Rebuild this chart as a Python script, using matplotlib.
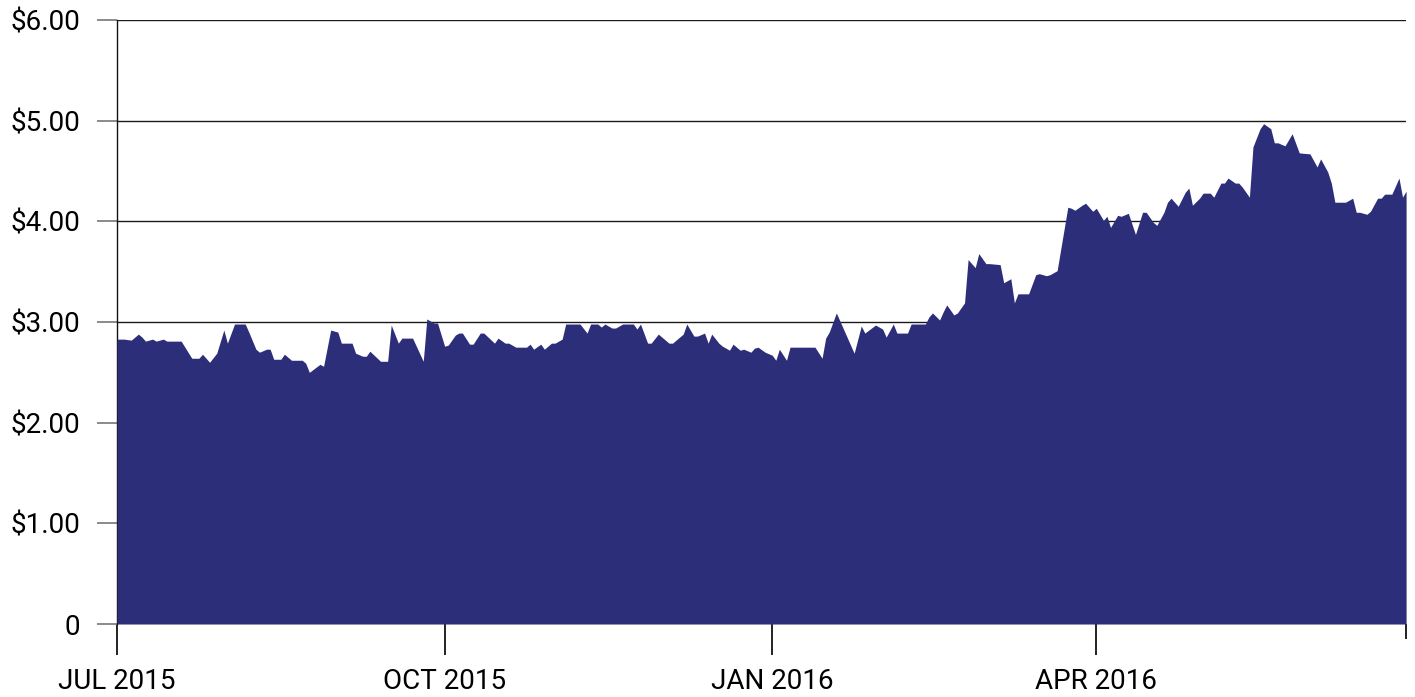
import matplotlib
matplotlib.use("Agg")
import matplotlib.pyplot as plt
import pandas as pd

# days counted from 1 Jul 2015, price in dollars
start_date = "2015-07-01"
day_offsets = [
    0, 2, 4, 6, 7, 8, 10, 11, 13, 14, 18, 21, 23, 24, 26, 28, 30, 31, 33, 36,
    37, 39, 40, 42, 43, 44, 46, 47, 49, 52, 53, 54, 57, 58, 60, 62, 63, 66, 67, 69,
    70, 71, 74, 76, 77, 79, 80, 83, 86, 87, 89, 90, 92, 93, 95, 96, 97, 99, 100, 102,
    103, 106, 107, 109, 110, 112, 115, 116, 117, 119, 120, 122, 123, 125, 126, 130, 132, 133, 135, 136,
    137, 139, 140, 142, 145, 146, 147, 149, 150, 152, 155, 156, 159, 160, 162, 163, 165, 166, 167, 169,
    170, 172, 173, 175, 176, 178, 179, 180, 182, 184, 185, 186, 188, 189, 196, 198, 199, 200, 202, 207,
    209, 210, 213, 215, 216, 218, 219, 222, 223, 227, 228, 229, 231, 232, 233, 235, 236, 238, 239, 241,
    242, 244, 245, 248, 249, 251, 252, 253, 256, 258, 259, 261, 262, 264, 265, 267, 268, 269, 271, 272,
    274, 275, 277, 278, 279, 281, 282, 284, 286, 288, 289, 291, 292, 294, 295, 296, 298, 300, 301, 302,
    304, 305, 307, 308, 310, 311, 312, 314, 315, 316, 318, 319, 321, 322, 324, 325, 326, 328, 330, 332,
    335, 337, 338, 340, 341, 342, 345, 347, 348, 349, 351, 352, 354, 355, 356, 358, 360, 361, 362,
]
prices = [
    2.83, 2.83, 2.82, 2.88, 2.85, 2.81, 2.83, 2.81, 2.83, 2.81, 2.81, 2.64, 2.64, 2.68, 2.60, 2.69, 2.92, 2.79, 2.98, 2.98,
    2.90, 2.73, 2.70, 2.73, 2.73, 2.63, 2.63, 2.68, 2.62, 2.62, 2.59, 2.50, 2.58, 2.56, 2.92, 2.90, 2.79, 2.79, 2.69, 2.66,
    2.66, 2.71, 2.61, 2.61, 2.97, 2.79, 2.84, 2.84, 2.61, 3.03, 2.99, 2.99, 2.76, 2.77, 2.87, 2.89, 2.89, 2.78, 2.78, 2.89,
    2.89, 2.79, 2.84, 2.79, 2.79, 2.75, 2.75, 2.78, 2.73, 2.78, 2.73, 2.79, 2.79, 2.83, 2.98, 2.98, 2.89, 2.98, 2.98, 2.95,
    2.98, 2.94, 2.94, 2.98, 2.98, 2.93, 2.98, 2.79, 2.79, 2.88, 2.79, 2.79, 2.88, 2.98, 2.86, 2.86, 2.89, 2.79, 2.88, 2.79,
    2.76, 2.72, 2.78, 2.72, 2.73, 2.70, 2.74, 2.75, 2.70, 2.67, 2.62, 2.73, 2.62, 2.75, 2.75, 2.64, 2.84, 2.90, 3.09, 2.69,
    2.96, 2.89, 2.97, 2.93, 2.85, 2.98, 2.89, 2.89, 2.98, 2.98, 3.05, 3.09, 3.02, 3.10, 3.17, 3.07, 3.09, 3.19, 3.62, 3.54,
    3.68, 3.58, 3.58, 3.57, 3.39, 3.43, 3.19, 3.28, 3.28, 3.47, 3.48, 3.46, 3.47, 3.51, 3.72, 4.14, 4.13, 4.11, 4.16, 4.18,
    4.10, 4.13, 4.01, 4.05, 3.94, 4.06, 4.05, 4.08, 3.87, 4.09, 4.09, 3.99, 3.96, 4.09, 4.19, 4.23, 4.15, 4.29, 4.33, 4.16,
    4.23, 4.28, 4.28, 4.24, 4.38, 4.38, 4.43, 4.38, 4.38, 4.34, 4.24, 4.74, 4.92, 4.97, 4.92, 4.78, 4.78, 4.75, 4.87, 4.68,
    4.67, 4.54, 4.62, 4.49, 4.38, 4.19, 4.19, 4.23, 4.09, 4.09, 4.07, 4.10, 4.23, 4.23, 4.27, 4.27, 4.43, 4.24, 4.30,
]

tick_dates = ["2015-07-01", "2015-10-01", "2016-01-01", "2016-04-01"]
tick_labels = ["JUL 2015", "OCT 2015", "JAN 2016", "APR 2016"]
y_ticks = [0, 1, 2, 3, 4, 5, 6]
y_labels = ["0", "$1.00", "$2.00", "$3.00", "$4.00", "$5.00", "$6.00"]

plt.rcParams["font.family"] = ["Roboto", "DejaVu Sans"]

dates = pd.Timestamp(start_date) + pd.to_timedelta(day_offsets, unit="D")

fig = plt.figure(figsize=(14.15, 6.97), dpi=100)
ax = fig.add_axes([0.0827, 0.1047, 0.9110, 0.8666])

ax.fill_between(dates, prices, 0, color="#2d2e7a", lw=0, zorder=3)

ax.set_xlim(dates[0], dates[-1])
ax.set_ylim(0, 6)

ax.set_yticks(y_ticks)
ax.set_yticklabels(y_labels, fontsize=20)
ax.yaxis.grid(True, color="#1a1a1a", lw=1)
ax.set_axisbelow(True)
ax.tick_params(axis="y", length=14.5, width=1.2, color="#777777", pad=12)

ax.set_xticks(pd.to_datetime(tick_dates))
ax.set_xticklabels(tick_labels, fontsize=20)
ax.set_xticks([dates[-1]], minor=True)
ax.tick_params(axis="x", which="major", length=22, width=1.3, color="#111111", pad=10)
ax.tick_params(axis="x", which="minor", length=11, width=1.3, color="#111111")

for side in ["top", "right", "bottom"]:
    ax.spines[side].set_visible(False)
ax.spines["left"].set_color("#111111")
ax.spines["left"].set_linewidth(1)

fig.savefig("out.png", dpi=100)
